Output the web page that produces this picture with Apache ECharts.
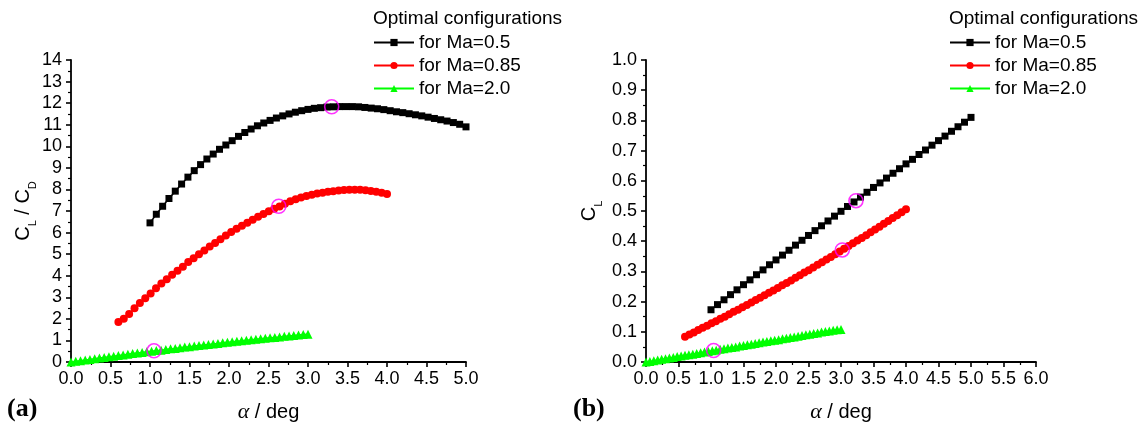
<!DOCTYPE html>
<html>
<head>
<meta charset="utf-8">
<script src="https://cdn.jsdelivr.net/npm/echarts@6/dist/echarts.min.js"></script>
<style>
html,body{margin:0;padding:0;background:#fff;}
#c{width:1146px;height:428px;}
</style>
</head>
<body>
<div id="c"></div>
<script>
// ---------- DATA ----------
const seriesNames = ['for Ma=0.5', 'for Ma=0.85', 'for Ma=2.0'];
const legendTitle = 'Optimal configurations';

// (a) CL/CD vs alpha
const alphaA05 = [1.00,1.08,1.16,1.24,1.32,1.40,1.48,1.56,1.64,1.72,1.80,1.88,1.96,2.04,2.12,2.20,2.28,2.36,2.44,2.52,2.60,2.68,2.76,2.84,2.92,3.00,3.08,3.16,3.24,3.32,3.40,3.48,3.56,3.64,3.72,3.80,3.88,3.96,4.04,4.12,4.20,4.28,4.36,4.44,4.52,4.60,4.68,4.76,4.84,4.92,5.00];
const ldA05 = [6.45,6.85,7.22,7.58,7.92,8.25,8.57,8.87,9.15,9.41,9.64,9.86,10.06,10.26,10.46,10.64,10.80,10.95,11.08,11.20,11.31,11.41,11.50,11.58,11.65,11.71,11.76,11.79,11.82,11.83,11.84,11.84,11.84,11.83,11.80,11.77,11.74,11.70,11.65,11.60,11.56,11.51,11.46,11.41,11.35,11.29,11.23,11.17,11.10,11.02,10.90];

const alpha085 = [0.600,0.668,0.736,0.804,0.872,0.940,1.008,1.076,1.144,1.212,1.280,1.348,1.416,1.484,1.552,1.620,1.688,1.756,1.824,1.892,1.960,2.028,2.096,2.164,2.232,2.300,2.368,2.436,2.504,2.572,2.640,2.708,2.776,2.844,2.912,2.980,3.048,3.116,3.184,3.252,3.320,3.388,3.456,3.524,3.592,3.660,3.728,3.796,3.864,3.932,4.000];
const ldA085 = [1.86,2.01,2.23,2.49,2.73,2.95,3.18,3.42,3.64,3.84,4.04,4.23,4.42,4.63,4.81,4.99,5.17,5.35,5.52,5.69,5.86,6.03,6.18,6.32,6.46,6.59,6.73,6.86,6.99,7.10,7.21,7.34,7.45,7.55,7.63,7.69,7.75,7.81,7.85,7.89,7.92,7.95,7.97,7.98,7.98,7.98,7.96,7.93,7.89,7.85,7.79];

const alpha20 = [0.00,0.06,0.12,0.18,0.24,0.30,0.36,0.42,0.48,0.54,0.60,0.66,0.72,0.78,0.84,0.90,0.96,1.02,1.08,1.14,1.20,1.26,1.32,1.38,1.44,1.50,1.56,1.62,1.68,1.74,1.80,1.86,1.92,1.98,2.04,2.10,2.16,2.22,2.28,2.34,2.40,2.46,2.52,2.58,2.64,2.70,2.76,2.82,2.88,2.94,3.00];
const ldA20 = [0.00,0.03,0.06,0.09,0.12,0.15,0.18,0.21,0.24,0.27,0.30,0.33,0.36,0.39,0.42,0.44,0.47,0.50,0.53,0.55,0.58,0.61,0.63,0.66,0.69,0.71,0.74,0.76,0.79,0.81,0.84,0.86,0.89,0.91,0.94,0.96,0.98,1.01,1.03,1.05,1.08,1.10,1.12,1.14,1.16,1.19,1.21,1.23,1.25,1.27,1.29];

// (b) CL vs alpha
const alphaB05 = [1.0,1.1,1.2,1.3,1.4,1.5,1.6,1.7,1.8,1.9,2.0,2.1,2.2,2.3,2.4,2.5,2.6,2.7,2.8,2.9,3.0,3.1,3.2,3.3,3.4,3.5,3.6,3.7,3.8,3.9,4.0,4.1,4.2,4.3,4.4,4.5,4.6,4.7,4.8,4.9,5.0];
const clB05 = [0.173,0.190,0.206,0.223,0.239,0.256,0.272,0.289,0.305,0.322,0.338,0.354,0.370,0.387,0.403,0.419,0.435,0.451,0.467,0.483,0.499,0.515,0.530,0.546,0.562,0.578,0.593,0.609,0.625,0.640,0.656,0.671,0.687,0.702,0.718,0.733,0.748,0.764,0.779,0.794,0.810];
const clB085 = [0.084,0.091,0.098,0.106,0.113,0.120,0.128,0.135,0.143,0.150,0.158,0.166,0.173,0.181,0.189,0.197,0.205,0.213,0.221,0.229,0.237,0.245,0.254,0.262,0.270,0.279,0.287,0.296,0.304,0.313,0.322,0.330,0.339,0.348,0.357,0.366,0.375,0.384,0.393,0.402,0.411,0.420,0.430,0.439,0.448,0.458,0.467,0.477,0.486,0.496,0.506];
const clB20 = [0.000,0.002,0.004,0.007,0.009,0.011,0.013,0.015,0.018,0.020,0.022,0.024,0.026,0.028,0.031,0.033,0.035,0.037,0.039,0.042,0.044,0.046,0.048,0.050,0.053,0.055,0.057,0.059,0.061,0.064,0.066,0.068,0.070,0.072,0.074,0.077,0.079,0.081,0.083,0.085,0.088,0.090,0.092,0.094,0.096,0.099,0.101,0.103,0.105,0.107,0.108];

// highlighted optimal points (magenta circles)
const optA = [[3.30, 11.83], [2.63, 7.22], [1.05, 0.52]];
const optB = [[3.23, 0.534], [3.02, 0.371], [1.04, 0.038]];

// ---------- CHART ----------
const FONT = 'Liberation Sans, Arial, sans-serif';
const colors = ['#000000', '#ff0000', '#00ff00'];
const symbols = ['rect', 'circle', 'triangle'];
const symSizes = [7, 8, 9];
const zip = (xs, ys) => xs.map((x, i) => [x, ys[i]]);

function axisCommon() {
  return {
    axisLine: { show: true, onZero: false, lineStyle: { color: '#000', width: 1.8 } },
    axisTick: { show: true, inside: false, length: 5, lineStyle: { color: '#000', width: 1.6 } },
    minorTick: { show: true, splitNumber: 2, length: 3, lineStyle: { color: '#000', width: 1.2 } },
    splitLine: { show: false },
    minorSplitLine: { show: false },
    axisLabel: { color: '#000', fontSize: 18, fontFamily: FONT }
  };
}

function xAxis(gridIndex, max) {
  const a = axisCommon();
  return Object.assign(a, {
    type: 'value', gridIndex, min: 0, max, interval: 0.5,
    name: '{g|α}{n| / deg}', nameLocation: 'middle', nameGap: 39,
    nameTextStyle: { rich: {
      g: { fontFamily: 'Liberation Serif, serif', fontStyle: 'italic', fontSize: 22, color: '#000' },
      n: { fontFamily: FONT, fontSize: 20, color: '#000' }
    } },
    axisLabel: Object.assign(a.axisLabel, { margin: 8, formatter: v => v.toFixed(1) })
  });
}

const subRich = {
  m: { fontFamily: FONT, fontSize: 20, color: '#000', lineHeight: 20 },
  s: { fontFamily: FONT, fontSize: 11, color: '#000', lineHeight: 30, verticalAlign: 'bottom' }
};

function yAxis(gridIndex, max, interval, name, gap, fmt) {
  const a = axisCommon();
  return Object.assign(a, {
    type: 'value', gridIndex, min: 0, max, interval,
    name, nameLocation: 'middle', nameRotate: 90, nameGap: gap,
    nameTextStyle: { rich: subRich },
    axisLabel: Object.assign(a.axisLabel, { margin: 9, formatter: fmt })
  });
}

function lineSeries(i, xIdx, data) {
  return {
    type: 'line', name: seriesNames[i], xAxisIndex: xIdx, yAxisIndex: xIdx,
    data, symbol: symbols[i], symbolSize: symSizes[i], showSymbol: true,
    lineStyle: { color: colors[i], width: 1.5 },
    itemStyle: { color: colors[i] },
    z: 5 - i
  };
}

function optSeries(xIdx, data) {
  return {
    type: 'scatter', name: 'opt', xAxisIndex: xIdx, yAxisIndex: xIdx,
    data, symbol: 'circle', symbolSize: 14, z: 10,
    itemStyle: { color: 'rgba(0,0,0,0)', borderColor: '#ff00ff', borderWidth: 1.6 }
  };
}

function legend(left) {
  return {
    data: seriesNames, orient: 'vertical', left, top: 33, padding: 0,
    itemWidth: 40, itemHeight: 9, itemGap: 4,
    selectedMode: false,
    textStyle: { color: '#000', fontSize: 19, fontFamily: FONT, lineHeight: 19 }
  };
}

const chart = echarts.init(document.getElementById('c'), null, { renderer: 'canvas' });
chart.setOption({
  animation: false,
  backgroundColor: '#fff',
  grid: [
    { left: 71, right: 680, top: 60, bottom: 59 },
    { left: 646, right: 110, top: 60, bottom: 60 }
  ],
  xAxis: [xAxis(0, 5), xAxis(1, 6)],
  yAxis: [
    yAxis(0, 14, 1, '{m|C}{s|L}{m| / C}{s|D}', 30, v => String(v)),
    yAxis(1, 1, 0.1, '{m|C}{s|L}', 42, v => v.toFixed(1))
  ],
  legend: [legend(373), legend(949)],
  series: [
    lineSeries(0, 0, zip(alphaA05, ldA05)),
    lineSeries(1, 0, zip(alpha085, ldA085)),
    lineSeries(2, 0, zip(alpha20, ldA20)),
    optSeries(0, optA),
    lineSeries(0, 1, zip(alphaB05, clB05)),
    lineSeries(1, 1, zip(alpha085, clB085)),
    lineSeries(2, 1, zip(alpha20, clB20)),
    optSeries(1, optB)
  ],
  graphic: [
    { type: 'text', left: 373, top: 9, style: { text: legendTitle, font: '19px ' + FONT, fill: '#000' } },
    { type: 'text', left: 949, top: 9, style: { text: legendTitle, font: '19px ' + FONT, fill: '#000' } },
    { type: 'text', left: 7, top: 396, style: { text: '(a)', font: 'bold 26px Liberation Serif, serif', fill: '#000' } },
    { type: 'text', left: 573, top: 396, style: { text: '(b)', font: 'bold 26px Liberation Serif, serif', fill: '#000' } }
  ]
});
</script>
</body>
</html>
